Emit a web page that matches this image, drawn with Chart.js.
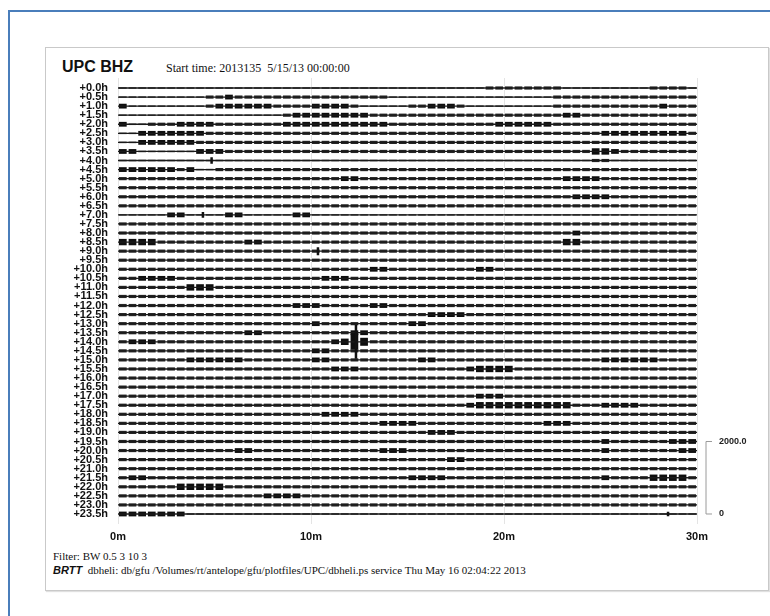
<!DOCTYPE html>
<html><head><meta charset="utf-8">
<script src="https://cdn.jsdelivr.net/npm/chart.js@4/dist/chart.umd.min.js"></script>
<style>
html,body{margin:0;padding:0;background:#fff;}
#wrap{position:relative;width:770px;height:616px;overflow:hidden;background:#fff;}
#frameTop{position:absolute;left:8px;top:10px;width:762px;height:2px;background:#4a7ebb;}
#frameLeft{position:absolute;left:8px;top:10px;width:2px;height:606px;background:#4a7ebb;}
#box{position:absolute;left:45px;top:47px;width:722px;height:542px;border:1px solid #c9c9c9;box-shadow:1px 1px 1px #e0e0e0;}
canvas{position:absolute;left:0;top:0;}
.t{position:absolute;white-space:pre;color:#111;line-height:1;}
.sans{font-family:"Liberation Sans",Arial,sans-serif;font-weight:bold;}
.serif{font-family:"Liberation Serif","Times New Roman",serif;}
</style></head>
<body><div id="wrap">
<div id="frameTop"></div><div id="frameLeft"></div><div id="box"></div>
<div class="t sans" style="left:62px;top:59px;font-size:16px;">UPC BHZ</div>
<div class="t serif" style="left:166px;top:62px;font-size:12px;">Start time: 2013135  5/15/13 00:00:00</div>
<div class="t serif" style="left:53px;top:551px;font-size:11px;">Filter: BW 0.5 3 10 3</div>
<div class="t serif" style="left:53px;top:565px;font-size:11px;"><span class="sans" style="font-style:italic;font-size:11px;">BRTT</span>  dbheli: db/gfu /Volumes/rt/antelope/gfu/plotfiles/UPC/dbheli.ps service Thu May 16 02:04:22 2013</div>
<canvas id="c" width="770" height="616"></canvas>
</div>
<script>
// ---- data ----
const hourLabels = ['+0.0h','+0.5h','+1.0h','+1.5h','+2.0h','+2.5h','+3.0h','+3.5h','+4.0h','+4.5h','+5.0h','+5.5h','+6.0h','+6.5h','+7.0h','+7.5h','+8.0h','+8.5h','+9.0h','+9.5h','+10.0h','+10.5h','+11.0h','+11.5h','+12.0h','+12.5h','+13.0h','+13.5h','+14.0h','+14.5h','+15.0h','+15.5h','+16.0h','+16.5h','+17.0h','+17.5h','+18.0h','+18.5h','+19.0h','+19.5h','+20.0h','+20.5h','+21.0h','+21.5h','+22.0h','+22.5h','+23.0h','+23.5h'];
const minuteTicks = [0, 10, 20, 30];
const minuteLabels = ['0m', '10m', '20m', '30m'];
const scaleBarValues = [0, 2000];
const scaleBarLabels = ['0', '2000.0'];
const countsPerTrace = 250;     // vertical spacing between traces (counts)
const ampUnit = 22;             // counts per envelope level digit
// envelope half-amplitude per 30 s bin (60 bins / trace), one digit per bin
const envelopes = [
"1111111111 1111111111 1111111111 1111111122 2222221111 1111122221",
"1111111112 2322222222 2222222211 1111111111 1111122222 2222222222",
"3111111112 3333332222 3333211111 2233321111 1111122222 2222223222",
"1111111111 1111111233 3333332222 2222222222 2222223322 2222222222",
"3112223333 2222222333 3333333322 2222222223 3333322222 2222222222",
"1133333332 2222222222 2222222222 2222222222 2222222222 3333333332",
"1133333322 2222222222 2222222222 2222222222 2222222222 2222222222",
"3311111133 3222222222 2222222222 2222222222 2222222224 4322222222",
"1111111111 1111111111 1111111111 1111111111 1111111112 2111111111",
"3333332311 2222222222 2222222222 2222222222 2222222222 2222222222",
"2222222222 2222222222 2223322222 2222222222 2222223333 2222222222",
"2222222222 2222222222 2222222222 2222222222 2222222222 2222222222",
"2222222222 2222222222 2222222222 2222222222 2222222333 3222222222",
"2222222222 2222222222 2222222222 2222222222 2222222222 2222222222",
"1111133111 1331111133 1111111111 1111111111 1111111111 1111111111",
"2222222222 2222222222 2222222222 2222222222 2222222222 2222222222",
"2222222222 2222222222 2222222222 2222222222 2222222322 2222222222",
"4444222222 2223322222 2222222222 2222222222 2222224422 2222222222",
"2222222222 2222222222 2222222222 2222222222 2222222222 2222222222",
"2222222222 2222222222 2222222222 2222222222 2222222222 2222222222",
"2222222222 2222222222 2222223322 2222222332 2222222222 2222222222",
"2233332222 2222222222 2333222222 2222222222 2222222222 2222222222",
"2222222444 2222222222 2222222222 2222222222 2222222222 2222222222",
"2222222222 2222222222 2222222222 2222222222 2222222222 2222222222",
"2222222222 2222222233 3222223322 2222222222 2222222222 2222222222",
"2222222222 2222222222 2222222222 2233332222 2222222222 2222222222",
"2222222222 2222222222 3222222222 3322222222 2222222222 2222222222",
"2222222222 2223322222 2222332222 2222222222 2222222222 2222222222",
"2333222222 2222222222 2234a52222 2222222222 2222222222 2222222222",
"2222222222 2222222222 3322222222 2222222222 2222222222 2222222222",
"2222222333 3332222222 3322222222 2332222222 2222222222 3333332222",
"2222222222 2222222222 2233322222 2222223444 4222222222 2222222222",
"2222222222 2222222222 2222222222 2222222222 2222222222 2222222222",
"2222222222 2222222222 2222222222 2222222222 2222222222 2222222222",
"2222222222 2222222222 2222222222 2222222333 2222222222 2222222222",
"2222222222 2222222222 2222222222 2222223444 4444444222 3333222222",
"2222222222 2222222222 2333322222 2222222222 2222222222 2222222222",
"2222222222 2222222222 2222222333 3222222222 2222333222 2222222222",
"2222222222 2222222222 2222222222 2233322222 2222222222 2222222222",
"2222222222 2222222222 2222222222 2222222222 2222222222 3222222333",
"2222222222 2233222222 2222222333 2222222222 2222222222 3222222233",
"2222222222 2222222222 2222222222 2222332222 2222222222 2222222222",
"2222222222 2222222222 2222222222 2222222222 2222222222 2222222222",
"2332222222 2222222222 2222222222 3333222222 2222222222 3222244442",
"2222224444 4222222222 2222222222 2222222222 2222222222 2222222222",
"2222222222 2222233332 2222222222 2222222222 2222222222 2222222222",
"2222222222 2222222222 2222222222 2222222222 2222222222 2222222222",
"3333333111 1111111111 1111111111 1111111111 1111111111 1111111111"
];
// isolated sharp arrivals: [trace index, minute, half-amplitude counts]
const spikes = [
  [8, 4.85, 90], [14, 4.4, 80], [18, 10.36, 110], [28, 12.33, 470], [47, 28.5, 60]
];

// ---- build library data ----
const binMinutes = 0.5;
const envData = [];
envelopes.forEach((row, i) => {
  const base = -i * countsPerTrace;
  row.replace(/\s/g, '').split('').forEach((ch, k) => {
    const lvl = parseInt(ch, 36);
    envData.push({x: (k + 0.5) * binMinutes, y: [base - lvl * ampUnit, base + lvl * ampUnit], lvl});
  });
});
const coreData = [];
hourLabels.forEach((_, i) => {
  const base = -i * countsPerTrace;
  coreData.push({x: minuteTicks[0], y: base}, {x: minuteTicks[minuteTicks.length - 1], y: base}, {x: minuteTicks[minuteTicks.length - 1], y: null});
});
const spikeData = [];
spikes.forEach(([i, m, a]) => {
  const base = -i * countsPerTrace;
  spikeData.push({x: m, y: base - a}, {x: m, y: base + a}, {x: m, y: null});
});
const nTr = hourLabels.length;
const padCounts = 276;

const scaleBarPlugin = {
  id: 'scaleBar',
  afterDraw(chart) {
    const y = chart.scales.y, ctx = chart.ctx;
    const base = -(nTr - 1) * countsPerTrace;
    const y0 = y.getPixelForValue(base + scaleBarValues[0]);
    const y1 = y.getPixelForValue(base + scaleBarValues[1]);
    const x = chart.chartArea.right + 9;
    ctx.save();
    ctx.strokeStyle = '#9a9a9a'; ctx.lineWidth = 1;
    ctx.beginPath();
    ctx.moveTo(x + 6, y1); ctx.lineTo(x, y1); ctx.lineTo(x, y0); ctx.lineTo(x + 6, y0);
    ctx.stroke();
    ctx.fillStyle = '#222';
    ctx.font = 'bold 9px "Liberation Sans", Arial, sans-serif';
    ctx.textBaseline = 'middle'; ctx.textAlign = 'left';
    ctx.fillText(scaleBarLabels[1], x + 13, y1);
    ctx.fillText(scaleBarLabels[0], x + 13, y0);
    ctx.restore();
  }
};

const lvlColor = c => {
  const l = c.raw ? c.raw.lvl : 2;
  return l <= 1 ? '#4a4a4a' : (l === 2 ? '#262626' : '#0e0e0e');
};

new Chart(document.getElementById('c'), {
  type: 'bar',
  data: {
    datasets: [
      {type: 'bar', data: envData, backgroundColor: lvlColor, borderWidth: 0,
       barPercentage: 0.8, categoryPercentage: 1, grouped: false, order: 3},
      {type: 'line', data: coreData, borderColor: '#1a1a1a', borderWidth: 1.3,
       pointRadius: 0, spanGaps: false, order: 2},
      {type: 'line', data: spikeData, borderColor: '#111', borderWidth: 2.5,
       pointRadius: 0, spanGaps: false, order: 1}
    ]
  },
  options: {
    responsive: false, animation: false, events: [],
    layout: {padding: {left: 0, right: 73, top: 78, bottom: 62}},
    plugins: {legend: {display: false}, tooltip: {enabled: false}},
    scales: {
      x: {
        type: 'linear', min: 0, max: 30, offset: false,
        afterFit: s => { s.height = 30; },
        afterBuildTicks: s => { s.ticks = minuteTicks.map(v => ({value: v})); },
        grid: {color: '#e4e4e4', drawTicks: false, lineWidth: 1, offset: false},
        border: {display: false},
        ticks: {autoSkip: false, maxRotation: 0, padding: 6, color: '#111',
          font: {family: '"Liberation Sans", Arial, sans-serif', weight: 'bold', size: 11},
          callback: (v, i) => minuteLabels[i]}
      },
      y: {
        type: 'linear', min: -(nTr - 1) * countsPerTrace - padCounts, max: padCounts,
        afterFit: s => { s.width = 118; },
        afterBuildTicks: s => { s.ticks = hourLabels.map((_, i) => ({value: -i * countsPerTrace})); },
        grid: {display: false, drawTicks: false},
        border: {display: false},
        ticks: {autoSkip: false, padding: 10, color: '#111',
          font: {family: '"Liberation Sans", Arial, sans-serif', weight: 'bold', size: 11},
          callback: (v, i) => hourLabels[i]}
      }
    }
  },
  plugins: [scaleBarPlugin]
});
</script>
</body></html>
